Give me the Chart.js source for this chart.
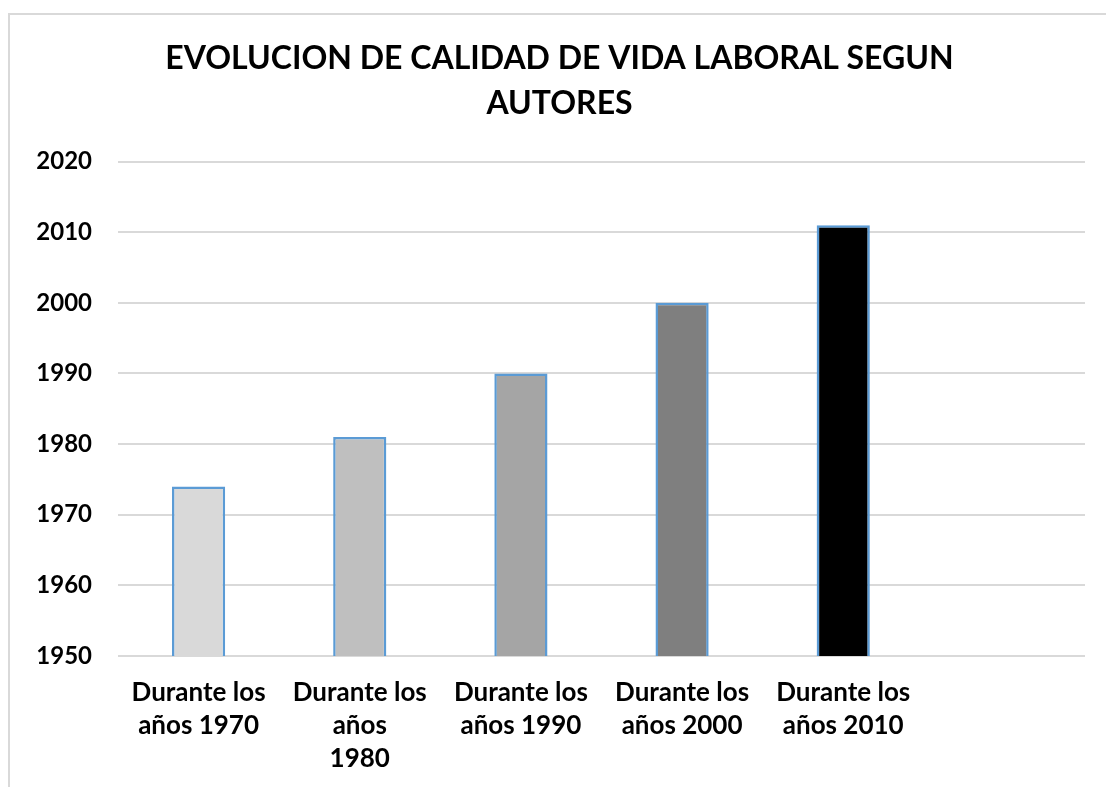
<!DOCTYPE html>
<html>
<head>
<meta charset="utf-8">
<script src="https://cdn.jsdelivr.net/npm/chart.js@4/dist/chart.umd.min.js"></script>
<style>
  body { margin: 0; background: #fff; }
  #wrap { position: relative; width: 1106px; height: 787px; overflow: hidden; }
  #frame { position: absolute; left: 8px; top: 13px; width: 1200px; height: 900px;
           border-left: 2px solid #d9d9d9; border-top: 2px solid #d9d9d9; }
  #chart { position: absolute; left: 0; top: 0; }
</style>
</head>
<body>
<div id="wrap">
  <div id="frame"></div>
  <canvas id="chart" width="1106" height="787"></canvas>
</div>
<script>
// Chart data
const categories = [
  ["Durante los", "años 1970"],
  ["Durante los", "años", "1980"],
  ["Durante los", "años 1990"],
  ["Durante los", "años 2000"],
  ["Durante los", "años 2010"],
  ""
];
const years = [1974, 1981, 1990, 2000, 2011, null];
const barColors = ["#d9d9d9", "#bfbfbf", "#a5a5a5", "#7f7f7f", "#000000", "#000000"];
const yTicks = [1950, 1960, 1970, 1980, 1990, 2000, 2010, 2020];

const FONT = "Lato, 'Open Sans', sans-serif";

new Chart(document.getElementById("chart").getContext("2d"), {
  type: "bar",
  data: {
    labels: categories,
    datasets: [{
      data: years,
      backgroundColor: barColors,
      borderColor: "#5b9bd5",
      borderWidth: 2.5,
      borderSkipped: "bottom",
      barPercentage: 0.33,
      categoryPercentage: 1
    }]
  },
  options: {
    responsive: false,
    animation: false,
    layout: { padding: { left: 34, right: 21, top: 0, bottom: 0 } },
    plugins: {
      legend: { display: false },
      tooltip: { enabled: false },
      title: {
        display: true,
        text: ["EVOLUCION DE CALIDAD DE VIDA LABORAL SEGUN", "AUTORES"],
        color: "#000",
        font: { family: FONT, size: 32, weight: "bold", lineHeight: 1.4 },
        padding: { top: 36, bottom: 36 }
      }
    },
    scales: {
      x: {
        afterFit: (axis) => { axis.height = 131; },
        grid: { display: false, drawTicks: false },
        border: { display: false },
        ticks: {
          color: "#000",
          font: { family: FONT, size: 26, weight: "bold", lineHeight: 1.27 },
          maxRotation: 0,
          autoSkip: false,
          padding: 20
        }
      },
      y: {
        min: yTicks[0],
        max: yTicks[yTicks.length - 1],
        afterFit: (axis) => { axis.width = 84; },
        afterBuildTicks: (axis) => { axis.ticks = yTicks.map(v => ({ value: v })); },
        grid: { color: "#d9d9d9", lineWidth: 2, drawTicks: false },
        border: { display: false },
        ticks: {
          color: "#000",
          font: { family: FONT, size: 24, weight: "bold" },
          padding: 26,
          callback: (v) => String(v)
        }
      }
    }
  }
});
</script>
</body>
</html>
